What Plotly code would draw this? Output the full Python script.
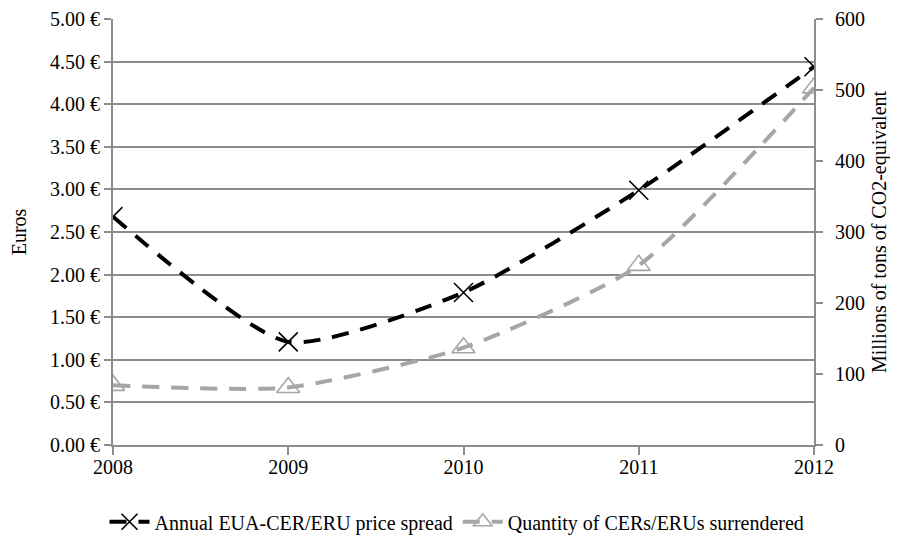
import plotly.graph_objects as go

years = [2008, 2009, 2010, 2011, 2012]
price_spread = [2.68, 1.21, 1.79, 2.99, 4.44]
quantity = [84, 81, 137, 253, 503]
left_ticks = [0, 0.5, 1, 1.5, 2, 2.5, 3, 3.5, 4, 4.5, 5]
left_labels = ["0.00 €", "0.50 €", "1.00 €", "1.50 €", "2.00 €", "2.50 €",
               "3.00 €", "3.50 €", "4.00 €", "4.50 €", "5.00 €"]
right_ticks = [0, 100, 200, 300, 400, 500, 600]

FONT = "Liberation Serif"
FS = 20
AXIS_GRAY = "#8c8c8c"

fig = go.Figure()
fig.add_trace(go.Scatter(
    x=years, y=price_spread, name="Annual EUA-CER/ERU price spread",
    mode="lines+markers", line=dict(color="black", width=4, dash="17px,12px", shape="spline", smoothing=0.6),
    marker=dict(symbol="x-thin-open", size=19, color="black", line=dict(color="black", width=1.6)),
    yaxis="y"))
fig.add_trace(go.Scatter(
    x=years, y=quantity, name="Quantity of CERs/ERUs surrendered",
    mode="lines+markers", line=dict(color="#a6a6a6", width=4, dash="17px,12px", shape="spline", smoothing=0.6),
    marker=dict(symbol="triangle-up-open", size=20, color="#a6a6a6", line=dict(color="#a6a6a6", width=1.6)),
    yaxis="y2"))

fig.update_layout(
    width=898, height=538,
    margin=dict(l=105, r=92, t=11, b=101, autoexpand=False),
    paper_bgcolor="white", plot_bgcolor="white",
    font=dict(family=FONT, size=FS, color="black"),
    showlegend=True,
    legend=dict(orientation="h", x=0.5, xref="container", xanchor="center",
                y=0.045, yref="container", yanchor="middle",
                font=dict(family=FONT, size=FS), itemwidth=40),
    xaxis=dict(range=[2008, 2012], tickvals=years, ticktext=[str(y) for y in years],
               showgrid=False, showline=True, linecolor=AXIS_GRAY, linewidth=2,
               ticks="outside", ticklen=8, tickcolor=AXIS_GRAY, tickwidth=2, zeroline=False,
               ticklabelstandoff=-5,
               tickfont=dict(family=FONT, size=FS)),
    yaxis=dict(range=[0, 5], tickvals=left_ticks, ticktext=left_labels,
               showgrid=True, gridcolor=AXIS_GRAY, gridwidth=2,
               showline=True, linecolor=AXIS_GRAY, linewidth=2,
               ticks="outside", ticklen=7, tickcolor=AXIS_GRAY, tickwidth=2, zeroline=False,
               tickfont=dict(family=FONT, size=FS),
               title=dict(text="Euros", font=dict(family=FONT, size=FS), standoff=20)),
    yaxis2=dict(range=[0, 600], tickvals=right_ticks, overlaying="y", side="right",
                showgrid=False, showline=True, linecolor=AXIS_GRAY, linewidth=2,
                ticks="outside", ticklen=7, tickcolor=AXIS_GRAY, tickwidth=2, zeroline=False,
                ticklabelstandoff=8,
                tickfont=dict(family=FONT, size=FS),
                title=dict(text="Millions of tons of CO2-equivalent", font=dict(family=FONT, size=FS), standoff=8)),
)

fig.write_html("out.html")
